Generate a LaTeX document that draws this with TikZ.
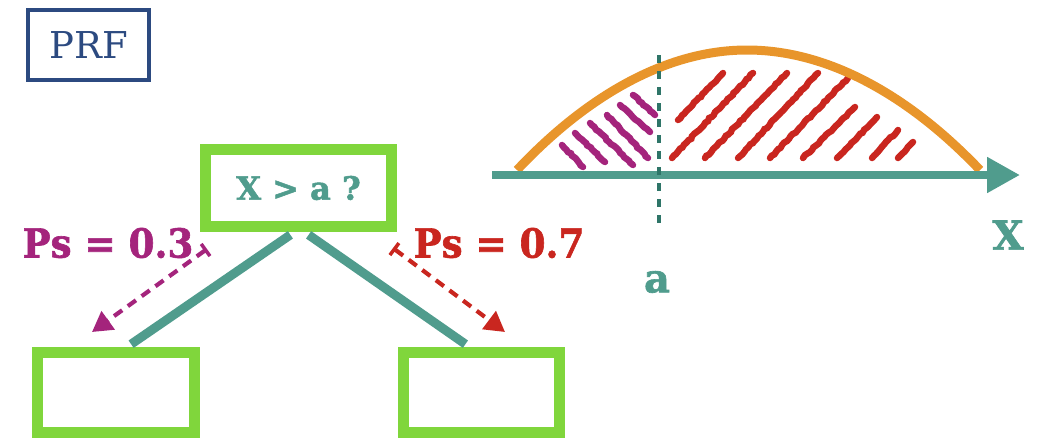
\documentclass[tikz,border=0pt]{standalone}
\usepackage{fontspec}
\setmainfont{DejaVu Serif}[BoldFeatures={FakeBold=1.6}]
\usetikzlibrary{arrows.meta,calc,decorations.pathmorphing}
\definecolor{prfblue}{HTML}{2C4A80}
\definecolor{boxgreen}{HTML}{80D63C}
\definecolor{tealone}{HTML}{509C8D}
\definecolor{tealdark}{HTML}{2E7568}
\definecolor{curveorange}{HTML}{E8952B}
\definecolor{magc}{HTML}{A4247C}
\definecolor{redc}{HTML}{C9261F}
\tikzset{
  prfbox/.style={draw=prfblue,line width=4.5pt,minimum width=121pt,minimum height=70pt,
    text=prfblue,font=\fontsize{37}{40}\selectfont,inner sep=0pt},
  greenbox/.style={draw=boxgreen,line width=11pt,inner sep=0pt},
  treeline/.style={tealone,line width=9pt},
  probarrow/.style={line width=4.2pt,dash pattern=on 10pt off 7pt,
    {Bar[width=15pt,line width=3.5pt]}-{Triangle[length=20pt,width=22pt]}},
  problabel/.style={font=\fontsize{40}{42}\selectfont\bfseries,inner sep=0pt},
  hatchline/.style={line width=6.5pt,line cap=round,
    decorate,decoration={random steps,segment length=3pt,amplitude=0.7pt}},
  axislabel/.style={text=tealone,font=\fontsize{40}{42}\selectfont\bfseries,inner sep=0pt},
}
\begin{document}
\begin{tikzpicture}[x=1pt,y=-1pt]
\useasboundingbox (0,0) rectangle (1043,437);
% PRF title box
\node[prfbox] (prf) at (88.5,45) {PRF};
% decision tree
\node[greenbox,minimum width=186pt,minimum height=77pt,text=tealone,
  font=\fontsize{32}{34}\selectfont\bfseries] (top) at (298.5,188) {X > a ?};
\node[greenbox,minimum width=157pt,minimum height=80pt] (bl) at (116,392.5) {};
\node[greenbox,minimum width=156pt,minimum height=80pt] (br) at (481.5,392.5) {};
\draw[treeline,shorten <=5pt,shorten >=5pt] ([xshift=-4pt]top.south) -- ([xshift=11pt]bl.north);
\draw[treeline,shorten <=5pt,shorten >=5pt] ([xshift=6pt]top.south) -- ([xshift=-12pt]br.north);
% probability arrows
\draw[probarrow,magc] ($(top.south west)+(7,17)$) -- ($(bl.north west)+(60,-15)$);
\draw[probarrow,redc] ($(top.south east)+(-4,16)$) -- ($(br.north west)+(107,-15)$);
\node[problabel,text=magc,xscale=0.93] (p3) at (108,243) {Ps = 0.3};
\node[problabel,text=redc,xscale=0.93] (p7) at (499,243) {Ps = 0.7};
% distribution plot
\foreach \ax/\ay/\bx/\by in {562/145/583/167, 575/133/605/162, 590/123/633/165,
    607/115/648/158, 620/105/650/132, 633/95/655/115}
  \draw[hatchline,magc] (\ax,\ay) -- (\bx,\by);
\foreach \ax/\ay/\bx/\by in {678/120/723/73, 672/158/753/73, 705/158/787/73,
    738/158/818/73, 770/158/848/78, 803/158/855/107, 837/158/877/117,
    872/158/898/130, 898/158/913/142}
  \draw[hatchline,redc] (\ax,\ay) -- (\bx,\by);
\draw[curveorange,line width=9pt] (517,170) parabola bend (747,50) (980,170);
\draw[tealone,line width=8pt,-{Triangle[length=33pt,width=34pt]}] (492,175) -- (1020,175);
\draw[tealdark,line width=4.5pt,dash pattern=on 8pt off 8pt] (659,55) -- (659,225);
\node[axislabel] (alab) at (657,282) {a};
\node[axislabel] (xlab) at (1008,235) {X};
\end{tikzpicture}
\end{document}
